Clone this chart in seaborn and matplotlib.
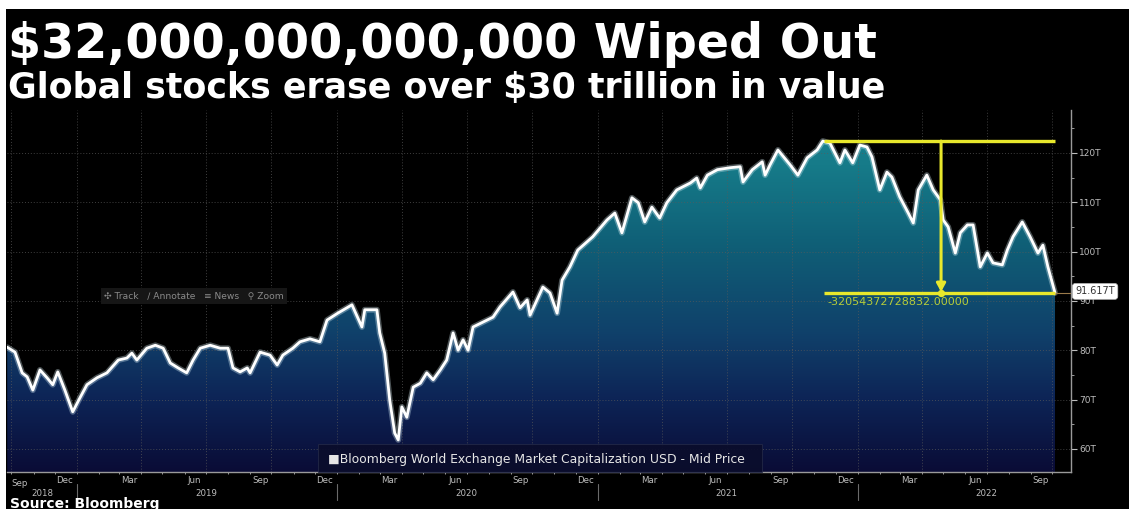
import numpy as np
import pandas as pd
import matplotlib
matplotlib.use("Agg")
import matplotlib.pyplot as plt
import matplotlib.dates as mdates
import matplotlib.transforms as mtransforms
from matplotlib.colors import LinearSegmentedColormap
from matplotlib.patches import Rectangle
from matplotlib.path import Path
import seaborn as sns

# ---------------- data ----------------
dates = ["2018-09-25", "2018-10-06", "2018-10-16", "2018-10-23", "2018-10-31", "2018-11-10",
         "2018-11-20", "2018-11-28", "2018-12-05", "2018-12-15", "2018-12-26", "2019-01-05",
         "2019-01-15", "2019-01-29", "2019-02-12", "2019-02-28", "2019-03-12", "2019-03-19",
         "2019-03-26", "2019-04-09", "2019-04-21", "2019-05-02", "2019-05-12", "2019-05-23",
         "2019-06-04", "2019-06-13", "2019-06-23", "2019-07-07", "2019-07-21", "2019-08-01",
         "2019-08-08", "2019-08-18", "2019-08-28", "2019-09-01", "2019-09-15", "2019-09-29",
         "2019-10-09", "2019-10-17", "2019-10-31", "2019-11-10", "2019-11-24", "2019-12-08",
         "2019-12-18", "2020-01-02", "2020-01-22", "2020-02-05", "2020-02-09", "2020-02-26",
         "2020-03-01", "2020-03-08", "2020-03-15", "2020-03-22", "2020-03-27", "2020-04-01",
         "2020-04-08", "2020-04-17", "2020-04-27", "2020-05-06", "2020-05-15", "2020-05-25",
         "2020-06-03", "2020-06-12", "2020-06-19", "2020-06-26", "2020-07-03", "2020-07-10",
         "2020-07-24", "2020-08-07", "2020-08-17", "2020-09-04", "2020-09-14", "2020-09-24",
         "2020-09-28", "2020-10-16", "2020-10-26", "2020-11-05", "2020-11-12", "2020-11-23",
         "2020-12-04", "2020-12-25", "2021-01-14", "2021-01-25", "2021-02-04", "2021-02-18",
         "2021-02-27", "2021-03-08", "2021-03-18", "2021-03-29", "2021-04-08", "2021-04-22",
         "2021-05-11", "2021-05-20", "2021-05-25", "2021-06-04", "2021-06-18", "2021-07-06",
         "2021-07-20", "2021-07-24", "2021-08-06", "2021-08-20", "2021-08-24", "2021-08-31",
         "2021-09-11", "2021-09-28", "2021-10-09", "2021-10-22", "2021-11-05", "2021-11-13",
         "2021-11-23", "2021-12-07", "2021-12-14", "2021-12-25", "2022-01-04", "2022-01-14",
         "2022-01-21", "2022-02-01", "2022-02-11", "2022-02-18", "2022-03-01", "2022-03-13",
         "2022-03-20", "2022-03-27", "2022-04-08", "2022-04-17", "2022-04-27", "2022-05-01",
         "2022-05-08", "2022-05-18", "2022-05-25", "2022-06-04", "2022-06-12", "2022-06-22",
         "2022-07-02", "2022-07-10", "2022-07-23", "2022-07-30", "2022-08-07", "2022-08-20",
         "2022-08-31", "2022-09-11", "2022-09-18", "2022-09-25", "2022-10-05"]

market_cap_t = [80.6, 79.6, 75.4, 74.6, 71.9, 76.0,
                74.4, 73.0, 75.6, 71.9, 67.5, 70.3,
                73.0, 74.4, 75.4, 78.0, 78.4, 79.4,
                78.0, 80.4, 81.0, 80.4, 77.4, 76.4,
                75.4, 78.0, 80.4, 81.0, 80.4, 80.4,
                76.4, 75.6, 76.4, 75.4, 79.6, 79.0,
                77.0, 79.0, 80.4, 81.7, 82.3, 81.7,
                86.1, 87.5, 89.2, 84.7, 88.2, 88.2,
                83.5, 79.4, 69.9, 63.2, 61.8, 68.5,
                66.4, 72.5, 73.3, 75.4, 74.0, 76.0,
                78.0, 83.5, 80.0, 82.1, 80.0, 84.7,
                85.7, 86.7, 88.8, 91.8, 88.6, 90.2,
                87.1, 92.8, 91.6, 87.5, 94.2, 96.9,
                100.3, 103.0, 106.4, 107.8, 103.8, 110.9,
                109.9, 106.0, 109.0, 106.8, 109.9, 112.5,
                113.9, 114.9, 112.9, 115.5, 116.6, 117.0,
                117.2, 114.1, 116.6, 118.2, 115.5, 117.6,
                120.6, 117.6, 115.5, 119.0, 120.6, 122.4,
                122.0, 118.0, 120.6, 118.0, 121.6, 121.2,
                119.2, 112.5, 116.1, 115.1, 111.1, 107.8,
                105.8, 112.5, 115.5, 112.5, 110.5, 106.4,
                105.0, 99.7, 103.8, 105.4, 105.4, 96.9,
                99.7, 97.7, 97.3, 100.3, 103.0, 106.0,
                103.0, 99.7, 101.3, 96.9, 91.617]

y_ticks = [60, 70, 80, 90, 100, 110, 120]
y_tick_labels = ["60T", "70T", "80T", "90T", "100T", "110T", "120T"]
years = [2019, 2020, 2021, 2022]

title = "$32,000,000,000,000 Wiped Out"
subtitle = "Global stocks erase over $30 trillion in value"
legend_label = "Bloomberg World Exchange Market Capitalization USD - Mid Price"
drop_label = "-32054372728832.00000"
last_label = "91.617T"
source = "Source: Bloomberg"

# ---------------- layout ----------------
W, H = 1129, 509
fx = lambda x: x / W
fy = lambda y: 1 - y / H

sns.set_theme(style="dark")
plt.rcParams["font.family"] = ["DejaVu Sans"]

fig = plt.figure(figsize=(W / 100, H / 100), dpi=100, facecolor="white")
fig.patches.append(Rectangle((fx(6), 0), 1 - fx(6), fy(9), transform=fig.transFigure,
                             facecolor="black", edgecolor="none", zorder=-5))

ax = fig.add_axes([fx(7), fy(472), fx(1071) - fx(7), fy(110) - fy(472)])
ax.set_zorder(1)
ax.set_facecolor("black")

xn = mdates.date2num(pd.to_datetime(dates))
vals = np.array(market_cap_t)

ref0 = mdates.date2num(pd.Timestamp("2019-01-01"))
ppd = 260 / 365.0
x_left = ref0 - 70 / ppd
x_right = ref0 + (1071 - 77) / ppd
y_lo, y_hi = 55.3, 128.7

# gradient fill under the curve
cmap = LinearSegmentedColormap.from_list(
    "bbg", [(0.0, "#0a0c36"), (0.2, "#0d2456"), (0.38, "#10406a"),
            (0.62, "#0f5e76"), (0.85, "#167b89"), (1.0, "#1a8794")])
grad = np.linspace(0, 1, 256).reshape(-1, 1)
im = ax.imshow(grad, extent=[x_left, x_right, y_lo, y_hi], origin="lower",
               aspect="auto", cmap=cmap, zorder=1)
verts = np.column_stack([np.r_[xn[0], xn, xn[-1]], np.r_[y_lo, vals, y_lo]])
im.set_clip_path(Path(verts), ax.transData)

# grid
qs = mdates.date2num(pd.date_range("2018-10-01", "2022-10-01", freq="QS"))
ax.vlines(qs, y_lo, y_hi, colors="#5a5a5a", linestyles=(0, (1, 2)), lw=0.7, alpha=0.7, zorder=2)
ax.hlines(y_ticks, x_left, x_right, colors="#5a5a5a", linestyles=(0, (1, 2)), lw=0.7, alpha=0.7, zorder=2)

# line
sns.lineplot(x=xn, y=vals, ax=ax, color="#d8eef4", lw=4.2, alpha=0.35, zorder=4)
sns.lineplot(x=xn, y=vals, ax=ax, color="white", lw=2.0, zorder=5)

ax.set_xlim(x_left, x_right)
ax.set_ylim(y_lo, y_hi)

# annotation (peak -> last)
ipk = int(np.argmax(vals))
peak, last = vals[ipk], vals[-1]
yel = "#e8e82c"
ax.hlines([peak, last], xn[ipk] + 1, xn[-1], colors=yel, lw=2.4, zorder=6)
xm = (xn[ipk] + xn[-1]) / 2 + 3
ax.annotate("", xy=(xm, last + 0.2), xytext=(xm, peak),
            arrowprops=dict(arrowstyle="-|>,head_width=0.22,head_length=0.4",
                            color=yel, lw=2.2, shrinkA=0, shrinkB=0), zorder=6)
ax.scatter([xm], [last], s=28, color=yel, zorder=7, linewidths=0)
ax.text(xn[ipk] + 6, last - 0.9, drop_label, color="#b5cc3a", fontsize=8,
        va="top", ha="left", zorder=6)

# last value tag
ax.hlines(last, xn[-1], x_right, colors="#9a7a4a", lw=0.8, zorder=6)
tr_r = mtransforms.blended_transform_factory(ax.transAxes, ax.transData)
ax.text(1.004, last + 0.3, last_label, transform=tr_r, fontsize=7, color="#333333",
        va="center", ha="left", zorder=8,
        bbox=dict(boxstyle="round,pad=0.3", facecolor="white", edgecolor="#bbbbbb", lw=0.5))

# axes styling
for s in ["left", "top"]:
    ax.spines[s].set_visible(False)
for s in ["right", "bottom"]:
    ax.spines[s].set_visible(True)
    ax.spines[s].set_color("#9a9a9a")
    ax.spines[s].set_linewidth(1.0)
ax.yaxis.tick_right()
ax.set_yticks(y_ticks)
ax.set_yticklabels(y_tick_labels)
ax.set_yticks([65, 75, 85, 95, 105, 115, 125], minor=True)
ax.tick_params(axis="y", which="major", colors="#bdbdbd", labelsize=6.5, length=4,
               direction="out", pad=2, width=0.8, right=True, left=False)
ax.tick_params(axis="y", which="minor", colors="#9a9a9a", length=2.5, direction="out",
               width=0.7, right=True, left=False)

mids = pd.date_range("2018-12-01", "2022-09-01", freq="QS-DEC") + pd.Timedelta(days=14)
ax.set_xticks(mdates.date2num(mids))
ax.set_xticklabels([d.strftime("%b") for d in mids])
months = mdates.date2num(pd.date_range("2018-10-01", "2022-10-01", freq="MS"))
ax.set_xticks(months, minor=True)
ax.tick_params(axis="x", which="major", colors="#bdbdbd", labelsize=6.2, length=0, pad=3)
ax.tick_params(axis="x", which="minor", colors="#9a9a9a", length=3, direction="inout",
               width=0.7, bottom=True)
ax.set_xlabel("")
ax.set_ylabel("")
ax.grid(False)

tr_b = mtransforms.blended_transform_factory(ax.transData, ax.transAxes)
ax.text(x_left + 6, -0.032, "Sep", transform=tr_b, fontsize=6.2, color="#bdbdbd",
        ha="left", va="center")
ylab = (472 - 493) / (472 - 110)
ax.text(ref0 - 35 / ppd, ylab, "2018", transform=tr_b, fontsize=6.2, color="#bdbdbd",
        ha="center", va="center")
for yv in years:
    xc = mdates.date2num(pd.Timestamp(f"{yv}-07-01"))
    ax.text(xc, ylab, str(yv), transform=tr_b, fontsize=6.2, color="#bdbdbd",
            ha="center", va="center")
    xs = mdates.date2num(pd.Timestamp(f"{yv}-01-01"))
    ax.plot([xs, xs], [(472 - 484) / 362, (472 - 500) / 362], transform=tr_b,
            color="#6a6a6a", lw=0.8, clip_on=False)

# toolbar
fig.text(fx(104), fy(296), "✣ Track   ∕ Annotate   ≡ News   ⚲ Zoom", fontsize=6.6,
         color="#8a8a8a", va="center", ha="left", zorder=9,
         bbox=dict(boxstyle="square,pad=0.35", facecolor="#161616", edgecolor="none"))

# legend
fig.patches.append(Rectangle((fx(318), fy(472)), fx(762) - fx(318), fy(444) - fy(472),
                             transform=fig.transFigure, facecolor="#0a0d2c",
                             edgecolor="#252a48", lw=0.6, alpha=0.92, zorder=8))
leg = fig.text(fx(328), fy(459), "■" + legend_label, fontsize=9.5, color="#e6e6e6",
               va="center", ha="left", zorder=9)

# titles
t1 = fig.text(fx(8), fy(58), title, fontsize=36, fontweight="bold", color="white",
              va="baseline", ha="left")
t2 = fig.text(fx(8), fy(98), subtitle, fontsize=22, fontweight="bold", color="white",
              va="baseline", ha="left")
src = fig.text(fx(10), fy(497), source, fontsize=10, fontweight="bold", color="white",
               va="top", ha="left")

fig.canvas.draw()
r = fig.canvas.get_renderer()
for t, w in [(t1, 870), (t2, 876), (leg, 420)]:
    bb = t.get_window_extent(r)
    t.set_fontsize(t.get_fontsize() * w / bb.width)

fig.savefig("out.png", dpi=100, facecolor=fig.get_facecolor())
